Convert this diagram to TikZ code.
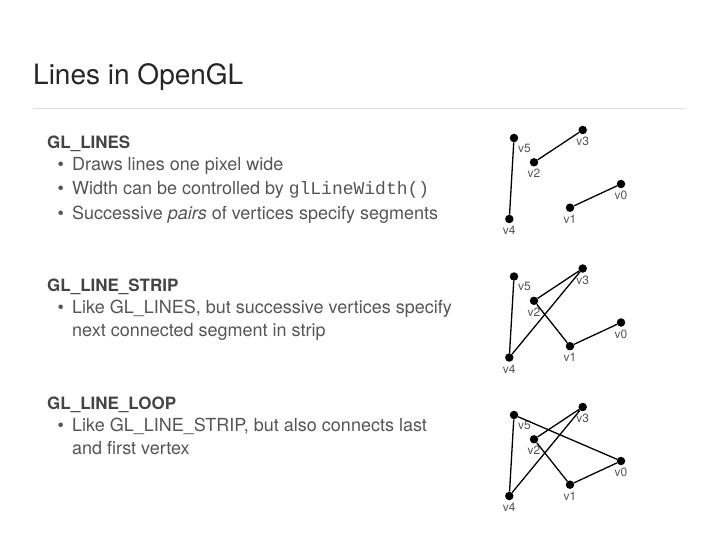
\documentclass[tikz,border=0pt]{standalone}
\usepackage{fontspec}
\setmainfont{TeX Gyre Heros}
\setmonofont{Liberation Mono}
\usetikzlibrary{positioning}
\definecolor{headgray}{RGB}{68,68,68}
\definecolor{textgray}{RGB}{85,85,85}
\definecolor{rulegray}{RGB}{222,222,222}

\begin{document}
\begin{tikzpicture}[
    x=1pt, y=-1pt,
    vtx/.style={circle, fill=black, inner sep=0pt, minimum size=8.5pt},
    vlbl/.style={font=\fontsize{12}{12}\selectfont, text=textgray, inner sep=0pt, label distance=2.5pt},
    edge/.style={line width=1.3pt},
    head/.style={anchor=base west, inner sep=0pt, font=\fontsize{17}{17}\selectfont\bfseries, text=headgray},
    item/.style={anchor=base west, inner sep=0pt, font=\fontsize{18}{18}\selectfont, text=textgray}
]
  \useasboundingbox (0,0) rectangle (720,540);

  \node[anchor=base west, inner sep=0pt, font=\fontsize{28}{28}\selectfont, text=black!85] (title) at (33,85) {Lines in OpenGL};
  \draw[rulegray, line width=0.8pt] (33,108) -- (685,108);

  % GL_LINES
  \node[head] (h1) at (47,149) {GL\_LINES};
  \node[item] (d11) at (57.5,171) {\textbullet};
  \node[item] (t11) at (72,171) {Draws lines one pixel wide};
  \node[item] (d12) at (57.5,195) {\textbullet};
  \node[item] (t12) at (72,195) {Width can be controlled by \texttt{glLineWidth()}};
  \node[item] (d13) at (57.5,219) {\textbullet};
  \node[item] (t13) at (72,219) {Successive \textit{pairs} of vertices specify segments};

  % GL_LINE_STRIP
  \node[head] (h2) at (47,291) {GL\_LINE\_STRIP};
  \node[item] (d21) at (57.5,313) {\textbullet};
  \node[item] (t21) at (72,313) {Like GL\_LINES, but successive vertices specify};
  \node[item] (t22) at (72,336) {next connected segment in strip};

  % GL_LINE_LOOP
  \node[head] (h3) at (47,409) {GL\_LINE\_LOOP};
  \node[item] (d31) at (57.5,431) {\textbullet};
  \node[item] (t31) at (72,431) {Like GL\_LINE\_STRIP, but also connects last};
  \node[item] (t32) at (72,454) {and first vertex};

  % vertices of the three examples
  \foreach \d/\dy in {a/0, b/138.5, c/277} {
    \node[vtx, label={[vlbl]below:v0}] (\d0) at (621,{184+\dy}) {};
    \node[vtx, label={[vlbl]below:v1}] (\d1) at (570,{207.7+\dy}) {};
    \node[vtx, label={[vlbl]below:v2}] (\d2) at (534,{162.3+\dy}) {};
    \node[vtx, label={[vlbl]below:v3}] (\d3) at (582.7,{130+\dy}) {};
    \node[vtx, label={[vlbl]below:v4}] (\d4) at (509.3,{219+\dy}) {};
    \node[vtx, label={[vlbl]-55:v5}] (\d5) at (514,{138+\dy}) {};
  }

  \draw[edge] (a0) -- (a1);
  \draw[edge] (a2) -- (a3);
  \draw[edge] (a4) -- (a5);

  \draw[edge] (b0) -- (b1) -- (b2) -- (b3) -- (b4) -- (b5);

  \draw[edge] (c0) -- (c1) -- (c2) -- (c3) -- (c4) -- (c5) -- (c0);
\end{tikzpicture}
\end{document}
